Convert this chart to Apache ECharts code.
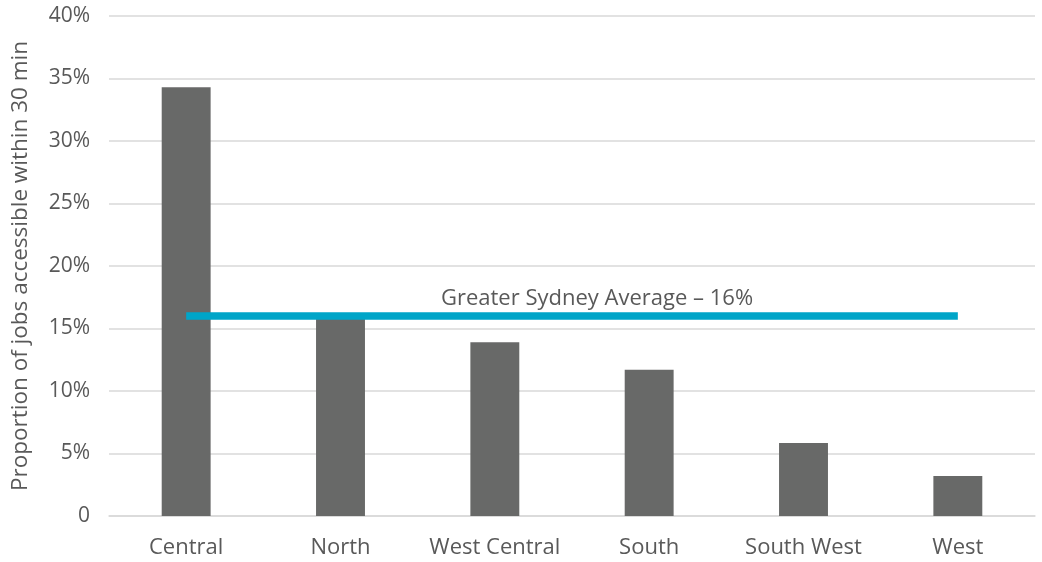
<!DOCTYPE html>
<html>
<head>
<meta charset="utf-8">
<script src="https://cdn.jsdelivr.net/npm/echarts@6/dist/echarts.min.js"></script>
<style>html,body{margin:0;padding:0;background:#fff}#c{width:1042px;height:562px}</style>
</head>
<body>
<div id="c"></div>
<script>
var categories = ['Central', 'North', 'West Central', 'South', 'South West', 'West'];
var values = [34.3, 15.9, 13.9, 11.7, 5.85, 3.2];
var averageValue = 16;
var averageLabel = 'Greater Sydney Average \u2013 16%';
var yTicks = { min: 0, max: 40, interval: 5 };

var chart = echarts.init(document.getElementById('c'), null, { renderer: 'canvas' });
var font = '"Open Sans", "Noto Sans", sans-serif';
chart.setOption({
  animation: false,
  textStyle: { fontFamily: font },
  grid: { left: 109, right: 7, top: 16, bottom: 46, containLabel: false },
  xAxis: {
    type: 'category',
    data: categories,
    axisTick: { show: false },
    axisLine: { lineStyle: { color: '#d9d9d9', width: 1.5 } },
    axisLabel: { color: '#595959', fontSize: 22, margin: 21, interval: 0, hideOverlap: false, fontFamily: font }
  },
  yAxis: {
    type: 'value',
    min: yTicks.min, max: yTicks.max, interval: yTicks.interval,
    name: 'Proportion of jobs accessible within 30 min',
    nameLocation: 'middle',
    nameGap: 77,
    nameTextStyle: { color: '#595959', fontSize: 22.5, fontFamily: font },
    axisLabel: {
      color: '#595959', fontSize: 21, margin: 19, fontFamily: font,
      formatter: function (v) { return v === 0 ? '0' : v + '%'; }
    },
    splitLine: { lineStyle: { color: '#d9d9d9', width: 1.5 } },
    axisLine: { show: false },
    axisTick: { show: false }
  },
  series: [{
    type: 'bar',
    data: values,
    barWidth: '31.7%',
    itemStyle: { color: '#686968' },
    markLine: {
      silent: true,
      symbol: ['none', 'none'],
      lineStyle: { color: '#00A5C8', width: 7.5, type: 'solid' },
      label: {
        show: true,
        position: 'middle',
        formatter: averageLabel,
        color: '#595959',
        fontSize: 22,
        fontFamily: font,
        distance: 6,
        padding: [0, 0, 0, 50]
      },
      data: [[
        { coord: [categories[0], averageValue] },
        { coord: [categories[categories.length - 1], averageValue] }
      ]]
    }
  }]
});
</script>
</body>
</html>
